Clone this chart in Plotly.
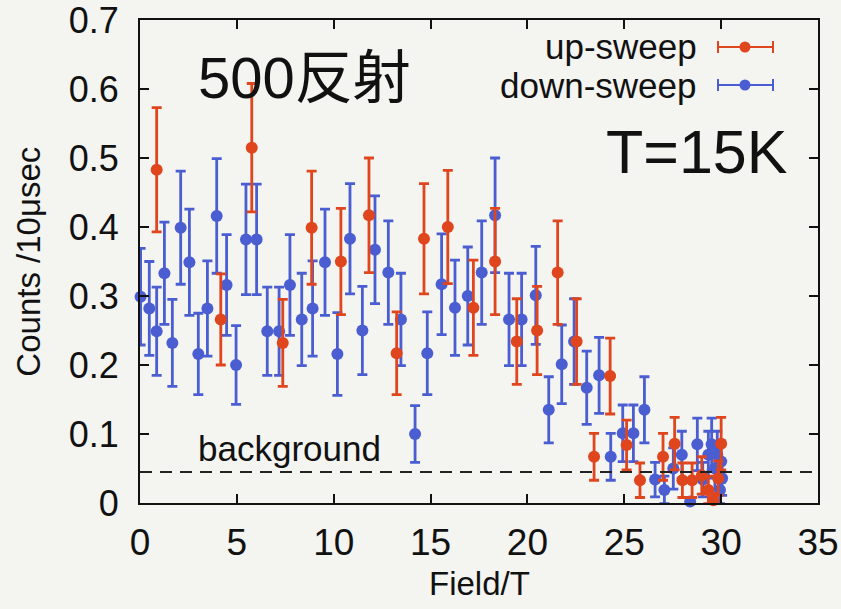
import plotly.graph_objects as go

# ---- data ----
down_x = [0.03, 0.48, 0.86, 1.26, 1.67, 2.10, 2.55, 3.01, 3.48, 3.96, 4.47, 4.96,
          5.47, 6.02, 6.57, 7.18, 7.74, 8.35, 8.91, 9.55, 10.19, 10.84, 11.48, 12.13,
          12.82, 13.47, 14.20, 14.83, 15.57, 16.26, 16.92, 17.64, 18.33, 19.05, 19.70,
          20.43, 21.10, 21.77, 22.41, 23.06, 23.70, 24.30, 24.92, 25.47, 26.04, 26.59,
          27.07, 27.53, 27.97, 28.40, 28.77, 29.05, 29.34, 29.51, 29.68, 29.80, 29.94,
          30.05, 30.00]
down_y = [0.299, 0.282, 0.249, 0.333, 0.232, 0.399, 0.349, 0.216, 0.282, 0.416, 0.316, 0.200,
          0.382, 0.382, 0.249, 0.249, 0.316, 0.266, 0.282, 0.349, 0.216, 0.383, 0.250, 0.367,
          0.334, 0.266, 0.100, 0.217, 0.317, 0.283, 0.300, 0.334, 0.417, 0.266, 0.266,
          0.301, 0.135, 0.201, 0.234, 0.167, 0.185, 0.067, 0.101, 0.101, 0.135, 0.034,
          0.019, 0.050, 0.070, 0.002, 0.085, 0.034, 0.070, 0.085, 0.050, 0.070, 0.019,
          0.036, 0.060]
down_err = [0.070, 0.068, 0.064, 0.074, 0.063, 0.082, 0.077, 0.059, 0.069, 0.083, 0.073, 0.057,
            0.080, 0.080, 0.064, 0.064, 0.073, 0.067, 0.069, 0.077, 0.060, 0.080, 0.064, 0.078,
            0.075, 0.067, 0.041, 0.060, 0.073, 0.069, 0.071, 0.075, 0.083, 0.067, 0.067,
            0.071, 0.048, 0.057, 0.062, 0.053, 0.055, 0.034, 0.041, 0.041, 0.048, 0.025,
            0.020, 0.030, 0.034, 0.004, 0.038, 0.025, 0.034, 0.038, 0.030, 0.034, 0.020,
            0.025, 0.030]

up_x = [0.86, 4.17, 5.77, 7.37, 8.86, 10.37, 11.82, 13.25, 14.66, 15.89, 17.21, 18.33,
        19.45, 20.50, 21.56, 22.54, 23.44, 24.27, 25.12, 25.81, 27.00, 27.60, 28.00,
        28.50, 29.00, 29.34, 29.60, 29.85, 30.00]
up_y = [0.483, 0.266, 0.515, 0.232, 0.399, 0.350, 0.417, 0.217, 0.383, 0.400, 0.283, 0.350,
        0.234, 0.250, 0.334, 0.234, 0.067, 0.184, 0.084, 0.033, 0.067, 0.086, 0.033,
        0.033, 0.040, 0.019, 0.004, 0.036, 0.086]
up_err = [0.090, 0.066, 0.093, 0.063, 0.082, 0.077, 0.083, 0.060, 0.080, 0.082, 0.069, 0.077,
          0.062, 0.064, 0.075, 0.062, 0.034, 0.055, 0.036, 0.025, 0.034, 0.038, 0.025,
          0.025, 0.027, 0.020, 0.010, 0.025, 0.038]

background_level = 0.045
x_ticks = [0, 5, 10, 15, 20, 25, 30, 35]
y_ticks = [0, 0.1, 0.2, 0.3, 0.4, 0.5, 0.6, 0.7]
y_tick_text = ["0", "0.1", "0.2", "0.3", "0.4", "0.5", "0.6", "0.7"]

RED = "#e0461e"
BLUE = "#4a5ed2"
BG = "#f4f4f1"
FONT = "Liberation Sans, Arial, sans-serif"

fig = go.Figure()
fig.add_trace(go.Scatter(
    x=down_x, y=down_y, mode="markers", name="down-sweep",
    marker=dict(color=BLUE, size=12),
    error_y=dict(type="data", array=down_err, color=BLUE, thickness=2.8, width=5),
    cliponaxis=False, showlegend=False))
fig.add_trace(go.Scatter(
    x=up_x, y=up_y, mode="markers", name="up-sweep",
    marker=dict(color=RED, size=12),
    error_y=dict(type="data", array=up_err, color=RED, thickness=2.8, width=5),
    cliponaxis=False, showlegend=False))

# background dashed line
fig.add_shape(type="line", xref="paper", yref="y", x0=0, x1=1,
              y0=background_level, y1=background_level,
              line=dict(color="#222", width=2, dash="12px,8px"))

# legend (text right, sample symbol on the right)
def legend_sample(ypos, color):
    x0, x1, xc = 0.8525, 0.9336, 0.8923
    fig.add_shape(type="line", xref="paper", yref="paper", x0=x0, x1=x1, y0=ypos, y1=ypos,
                  line=dict(color=color, width=2))
    for xe in (x0, x1):
        fig.add_shape(type="line", xref="paper", yref="paper", xsizemode="pixel",
                      ysizemode="pixel", xanchor=xe, yanchor=ypos, x0=0, x1=0, y0=-6, y1=6,
                      line=dict(color=color, width=2))
    fig.add_shape(type="circle", xref="paper", yref="paper", xsizemode="pixel",
                  ysizemode="pixel", xanchor=xc, yanchor=ypos, x0=-5.5, x1=5.5, y0=-5.5, y1=5.5,
                  fillcolor=color, line=dict(color=color, width=0))

legend_sample(0.9441, RED)
legend_sample(0.8654, BLUE)

annotations = [
    dict(text="up-sweep", x=0.824, y=0.9441, xanchor="right", yanchor="middle",
         font=dict(size=35, color="#111")),
    dict(text="down-sweep", x=0.824, y=0.8654, xanchor="right", yanchor="middle",
         font=dict(size=35, color="#111")),
    dict(text="T=15K", x=0.957, y=0.726, xanchor="right", yanchor="middle",
         font=dict(size=61, color="#111")),
    dict(text="500反射", x=0.082, y=0.881, xanchor="left", yanchor="middle",
         font=dict(size=58, color="#111",
                   family="Liberation Sans, Noto Sans CJK JP, sans-serif")),
    dict(text="background", x=0.083, y=0.113, xanchor="left", yanchor="middle",
         font=dict(size=35, color="#111")),
    dict(text="Counts /10μsec", x=-0.165, y=0.5, xanchor="center", yanchor="middle",
         textangle=-90, font=dict(size=33, color="#111")),
    dict(text="Field/T", x=0.5, y=-0.166, xanchor="center", yanchor="middle",
         font=dict(size=33, color="#111")),
]
for a in annotations:
    a.update(xref="paper", yref="paper", showarrow=False)
fig.update_layout(annotations=annotations)

fig.update_xaxes(range=[0, 35], tickvals=x_ticks, ticks="inside", ticklen=9, tickwidth=2,
                 tickcolor="#111", showline=True, linecolor="#111", linewidth=2, mirror="ticks",
                 showgrid=False, zeroline=False, tickfont=dict(size=37, color="#111"),
                 ticklabelstandoff=6, automargin=False, ticklabeloverflow="allow")
fig.update_yaxes(range=[0, 0.7], tickvals=y_ticks, ticktext=y_tick_text, ticks="inside",
                 ticklen=9, tickwidth=2, tickcolor="#111", showline=True, linecolor="#111",
                 linewidth=2, mirror="ticks", showgrid=False, zeroline=False,
                 tickfont=dict(size=36, color="#111"), ticklabelstandoff=12, automargin=False,
                 ticklabeloverflow="allow")

fig.update_layout(
    width=841, height=609,
    margin=dict(l=140, r=23, t=20, b=106),
    paper_bgcolor=BG, plot_bgcolor=BG,
    font=dict(family=FONT, color="#111"),
    showlegend=False,
)

fig.write_html(
    "out.html",
    config={"displayModeBar": False},
    post_script="document.body.style.margin='0';document.body.style.background='%s';" % BG,
)
